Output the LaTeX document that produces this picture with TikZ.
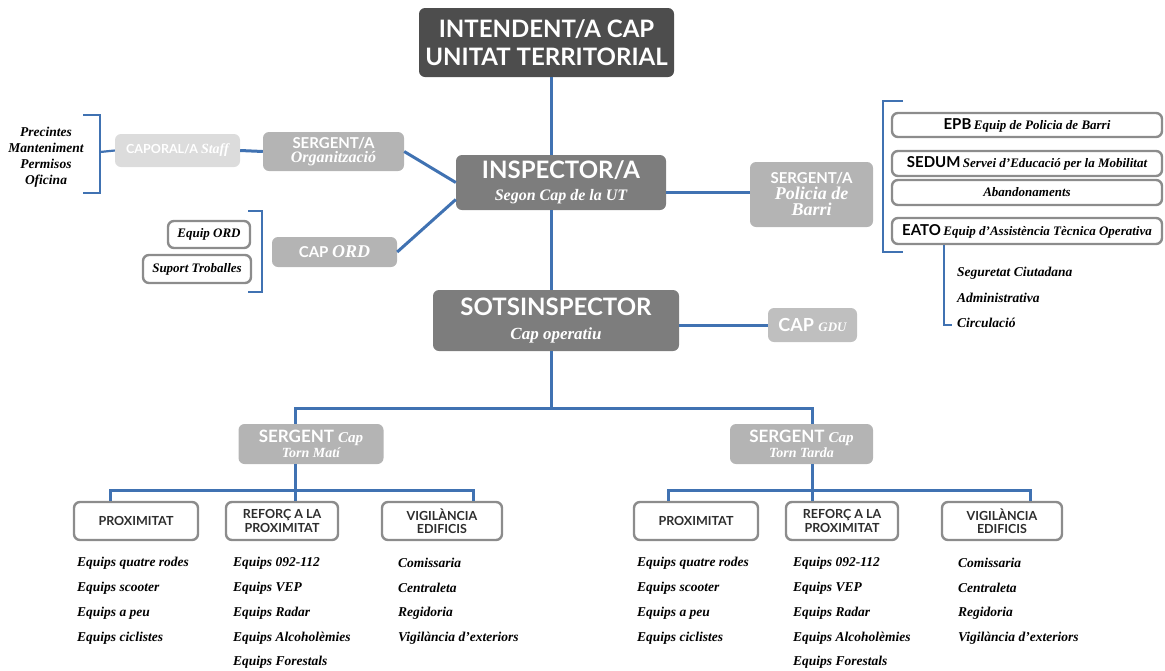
\documentclass[tikz,border=0pt]{standalone}
\usepackage{fontspec}
\setmainfont{Liberation Serif}
\setsansfont{Lato}
\newcommand\hsans[1]{{\sffamily\bfseries #1}}
\newcommand\hser[2]{{\rmfamily\bfseries\itshape\fontsize{#1}{#1}\selectfont #2}}
\newcommand\fs[1]{\fontsize{#1}{#1}\selectfont}
\definecolor{linkblue}{RGB}{64,114,178}
\definecolor{boxdark}{RGB}{77,77,77}
\definecolor{boxmid}{RGB}{125,125,125}
\definecolor{boxlight}{RGB}{180,180,180}
\definecolor{boxpale}{RGB}{220,220,220}
\definecolor{framegray}{RGB}{140,140,140}
\definecolor{labgray}{RGB}{45,45,45}
\begin{document}
\begin{tikzpicture}[x=1pt,y=-1pt,
  link/.style={draw=linkblue,line width=3pt},
  rank/.style={rounded corners=6pt,inner sep=0pt,align=center,text=white},
  team/.style={draw=framegray,line width=2.4pt,fill=white,rounded corners=6pt,inner sep=0pt,align=center,text=labgray},
  item/.style={anchor=west,inner sep=0pt,font=\rmfamily\bfseries\itshape\fs{13.5},text=black},
  note/.style={inner sep=0pt,font=\rmfamily\bfseries\itshape\fs{13.5},text=black}]
\useasboundingbox (0,0) rectangle (1165,670);

% ---- chain of command ----
\node[rank,fill=boxdark,minimum width=255pt,minimum height=69pt,font=\sffamily\bfseries\fs{24}] (intendent) at (546.5,42.5)
  {INTENDENT/A CAP\\[4pt]UNITAT TERRITORIAL};
\node[rank,fill=boxmid,minimum width=210pt,minimum height=55pt,font=\sffamily\bfseries\fs{24}] (inspector) at (561,182.5)
  {INSPECTOR/A\\[-2pt]\hser{16}{Segon Cap de la UT}};
\node[rank,fill=boxmid,minimum width=246pt,minimum height=61pt,font=\sffamily\bfseries\fs{24}] (sots) at (556,320.5)
  {SOTSINSPECTOR\\[0pt]\hser{17}{Cap operatiu}};

% ---- staff branch ----
\node[rank,fill=boxpale,minimum width=125pt,minimum height=33pt,font=\sffamily\bfseries\fs{12.5}] (caporal) at (177.5,150.5)
  {CAPORAL/A \hser{14}{Staff}};
\node[rank,fill=boxlight,minimum width=141pt,minimum height=39pt,font=\sffamily\bfseries\fs{15}] (sergorg) at (333.5,151.5)
  {SERGENT/A\\[-1pt]\hser{16}{Organització}};
\node[rank,fill=boxlight,minimum width=125pt,minimum height=30pt,font=\sffamily\bfseries\fs{15}] (capord) at (334.5,252)
  {CAP \hser{18}{ORD}};
\node[team,minimum width=82pt,minimum height=27pt,text=black] (equipord) at (209,234.5)
  {\hser{13}{Equip ORD}};
\node[team,minimum width=108pt,minimum height=28pt,text=black] (suport) at (197,269)
  {\hser{13}{Suport Troballes}};

\node[note] (precintes) at (46,132) {Precintes};
\node[note] (manteniment) at (46,148) {Manteniment};
\node[note] (permisos) at (46,164) {Permisos};
\node[note] (oficina) at (46,181) {Oficina};

% ---- neighbourhood police branch ----
\node[rank,fill=boxlight,minimum width=123pt,minimum height=65pt,font=\sffamily\bfseries\fs{15}] (sergpb) at (811.5,194.5)
  {SERGENT/A\\[1pt]\hser{18}{Policia de}\\[1pt]\hser{18}{Barri}};
\node[team,minimum width=270pt,minimum height=24pt,text=black] (epb) at (1027,125)
  {\hsans{\fs{15}EPB} \hser{13}{Equip de Policia de Barri}};
\node[team,minimum width=270pt,minimum height=25pt,text=black] (sedum) at (1027,163.5)
  {\hsans{\fs{15}SEDUM} \hser{13}{Servei d'Educació per la Mobilitat}};
\node[team,minimum width=270pt,minimum height=25pt,text=black] (aband) at (1027,192.5)
  {\hser{13}{Abandonaments}};
\node[team,minimum width=270pt,minimum height=26pt,text=black] (eato) at (1027,231)
  {\hsans{\fs{15}EATO} \hser{13}{Equip d'Assistència Tècnica Operativa}};
\node[item] (seguretat) at (957,273) {Seguretat Ciutadana};
\node[item] (admin) at (957,298) {Administrativa};
\node[item] (circulacio) at (957,323) {Circulació};

% ---- GDU ----
\node[rank,fill=boxlight!85!white,minimum width=89pt,minimum height=34pt,font=\sffamily\bfseries\fs{18}] (capgdu) at (812.5,325)
  {CAP \hser{13}{GDU}};

% ---- shifts ----
\node[rank,fill=boxlight,minimum width=145pt,minimum height=40pt,font=\sffamily\bfseries\fs{17}] (sergmati) at (311,444)
  {SERGENT \hser{15}{Cap}\\[-2pt]\hser{14}{Torn Matí}};
\node[rank,fill=boxlight,minimum width=143pt,minimum height=40pt,font=\sffamily\bfseries\fs{17}] (sergtarda) at (801.5,444)
  {SERGENT \hser{15}{Cap}\\[-2pt]\hser{14}{Torn Tarda}};

\foreach \s/\dx in {a/0,b/560}{
  \node[team,minimum width=124pt,minimum height=38pt,font=\sffamily\bfseries\fs{12.5}] (prox\s) at (136+\dx,521) {PROXIMITAT};
  \node[team,minimum width=112pt,minimum height=38pt,font=\sffamily\bfseries\fs{12.5}] (refor\s) at (282+\dx,521) {REFORÇ A LA\\[1pt]PROXIMITAT};
  \node[team,minimum width=120pt,minimum height=38pt,font=\sffamily\bfseries\fs{12.5}] (vig\s) at (442+\dx,521) {VIGILÀNCIA\\[1pt]EDIFICIS};
  \node[item] (p1\s) at (77+\dx,563) {Equips quatre rodes};
  \node[item] (p2\s) at (77+\dx,588) {Equips scooter};
  \node[item] (p3\s) at (77+\dx,613) {Equips a peu};
  \node[item] (p4\s) at (77+\dx,638) {Equips ciclistes};
  \node[item] (r1\s) at (233+\dx,563) {Equips 092-112};
  \node[item] (r2\s) at (233+\dx,588) {Equips VEP};
  \node[item] (r3\s) at (233+\dx,613) {Equips Radar};
  \node[item] (r4\s) at (233+\dx,638) {Equips Alcoholèmies};
  \node[item] (r5\s) at (233+\dx,662) {Equips Forestals};
  \node[item] (v1\s) at (398+\dx,563) {Comissaria};
  \node[item] (v2\s) at (398+\dx,588) {Centraleta};
  \node[item] (v3\s) at (398+\dx,613) {Regidoria};
  \node[item] (v4\s) at (398+\dx,638) {Vigilància d'exteriors};
}

% ---- connectors ----
\coordinate (spine) at (551,0);
\draw[link] (intendent.south -| spine) -- (inspector.north -| spine);
\draw[link] (inspector.south -| spine) -- (sots.north -| spine);
\coordinate (split) at (551,408);
\coordinate (matidrop) at (295,0);
\coordinate (tardadrop) at (812,0);
\draw[link] (sots.south -| spine) -- (split);
\draw[link] (sergmati.north -| matidrop) -- (matidrop |- split) -- (tardadrop |- split) -- (sergtarda.north -| tardadrop);

\draw[link] (sergorg.east) -- (inspector.west);
\draw[link] (capord.east) -- ([yshift=-17pt]inspector.west);
\draw[link] (caporal.east) -- (sergorg.west);
\draw[link] ([yshift=-10pt]inspector.east) -- ([yshift=-10pt]inspector.east -| sergpb.west);
\draw[link] (sots.east |- capgdu) -- (capgdu.west);

% brackets
\coordinate (bkA) at (100,152);
\draw[link,line width=2.2pt] (83,115) -- (100,115) -- (100,193) -- (83,193);
\draw[link,line width=2.2pt] (bkA) -- (caporal.west);
\draw[link,line width=2.2pt] (248,211) -- (262,211) -- (262,292) -- (248,292);
\draw[link,line width=2.2pt] (903,101) -- (883,101) -- (883,252) -- (903,252);
\draw[link,line width=2.2pt] (eato.south -| 944,0) -- (944,325) -- (952,325);

% shift sub-branches
\coordinate (matibar) at (295,490);
\coordinate (tardabar) at (812,490);
\draw[link] (sergmati.south -| matibar) -- (matibar);
\draw[link] (sergtarda.south -| tardabar) -- (tardabar);
\draw[link] (proxa.north -| 110,0) -- (110,490) -- (473,490) -- (viga.north -| 473,0);
\draw[link] (matibar) -- (refora.north -| matibar);
\draw[link] (proxb.north -| 668,0) -- (668,490) -- (1030,490) -- (vigb.north -| 1030,0);
\draw[link] (tardabar) -- (reforb.north -| tardabar);
\end{tikzpicture}
\end{document}
